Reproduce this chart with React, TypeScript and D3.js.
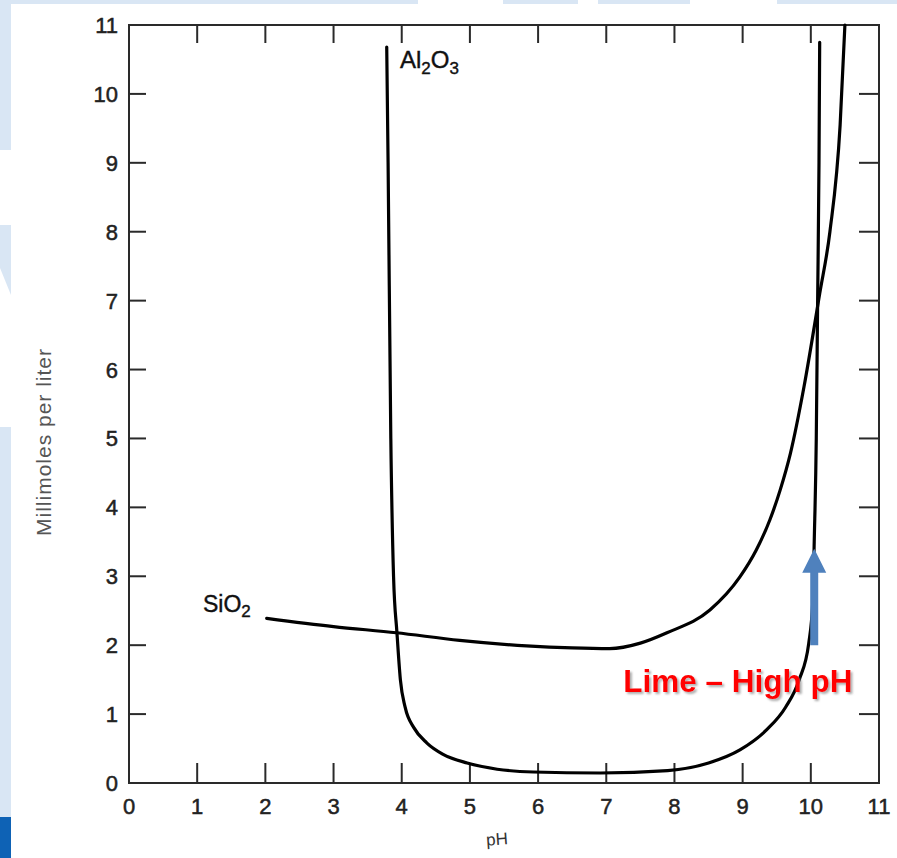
import React from "react";
import * as d3 from "d3";

const xTicks = [0, 1, 2, 3, 4, 5, 6, 7, 8, 9, 10, 11];
const yTicks = [0, 1, 2, 3, 4, 5, 6, 7, 8, 9, 10, 11];

const al2o3X = [3.78, 3.8, 3.84, 3.88, 3.93, 3.98, 4.05, 4.18, 4.37, 4.6, 4.96, 5.4, 5.93, 6.91, 7.9, 8.5, 8.96, 9.35, 9.63, 9.83, 9.97, 10.03, 10.05, 10.08, 10.1, 10.12, 10.13];
const al2o3Y = [10.68, 9.0, 5.0, 3.0, 2.18, 1.5, 1.1, 0.8, 0.58, 0.42, 0.29, 0.2, 0.16, 0.145, 0.18, 0.29, 0.48, 0.77, 1.1, 1.5, 2.03, 2.66, 3.5, 5.0, 7.0, 9.0, 10.75];

const sio2X = [2.02, 3.0, 3.92, 4.85, 5.83, 6.5, 7.05, 7.5, 7.89, 8.52, 8.96, 9.2, 9.4, 9.55, 9.7, 9.9, 10.13, 10.28, 10.43, 10.5];
const sio2Y = [2.39, 2.27, 2.18, 2.07, 1.99, 1.96, 1.95, 2.03, 2.18, 2.51, 2.99, 3.38, 3.82, 4.25, 4.78, 5.75, 7.1, 8.0, 9.55, 11.0];

const arrowX = 10.05;
const arrowFrom = 2.0;
const arrowTo = 3.4;
const arrowHeadBase = 3.05;

const W = 897;
const H = 858;

export default function App() {
  const x = d3.scaleLinear().domain([0, 11]).range([129, 879]);
  const y = d3.scaleLinear().domain([0, 11]).range([783, 25]);

  const line = d3
    .line<[number, number]>()
    .x((d) => x(d[0]))
    .y((d) => y(d[1]))
    .curve(d3.curveMonotoneX);

  const alPts: [number, number][] = al2o3X.map((v, i) => [v, al2o3Y[i]]);
  const siPts: [number, number][] = sio2X.map((v, i) => [v, sio2Y[i]]);

  const ax = x(arrowX);
  const shaftW = 8;
  const headW = 24;
  const arrowPath = [
    [ax - shaftW / 2, y(arrowFrom)],
    [ax - shaftW / 2, y(arrowHeadBase)],
    [ax - headW / 2, y(arrowHeadBase)],
    [ax, y(arrowTo)],
    [ax + headW / 2, y(arrowHeadBase)],
    [ax + shaftW / 2, y(arrowHeadBase)],
    [ax + shaftW / 2, y(arrowFrom)],
  ]
    .map((p) => p.join(","))
    .join(" ");

  const lightBlue = "#d9e6f4";
  const font = "'Liberation Sans', Arial, Helvetica, sans-serif";
  const axisColor = "#2a2a2a";

  return (
    <svg
      width={W}
      height={H}
      style={{ position: "absolute", left: 0, top: 0, background: "#fff" }}
      fontFamily={font}
    >
      <defs>
        <filter id="shadow" x="-10%" y="-30%" width="130%" height="170%">
          <feDropShadow dx={2} dy={2} stdDeviation={1.2} floodColor="#777" floodOpacity={0.6} />
        </filter>
      </defs>

      {/* slide background decoration */}
      <rect x={0} y={0} width={418} height={4} fill={lightBlue} />
      <rect x={503} y={0} width={75} height={4} fill={lightBlue} />
      <rect x={598} y={0} width={92} height={4} fill={lightBlue} />
      <rect x={777} y={0} width={120} height={4} fill={lightBlue} />
      <rect x={0} y={0} width={11} height={150} fill={lightBlue} />
      <polygon points="0,225 11,225 11,295 0,268" fill={lightBlue} />
      <rect x={0} y={427} width={11} height={390} fill={lightBlue} />
      <rect x={0} y={817} width={11} height={41} fill="#0e62b5" />

      {/* frame */}
      <rect
        x={x(0)}
        y={y(11)}
        width={x(11) - x(0)}
        height={y(0) - y(11)}
        fill="none"
        stroke={axisColor}
        strokeWidth={2}
      />

      {/* ticks */}
      {xTicks
        .filter((t) => t > 0 && t < 11)
        .map((t) => (
          <g key={"xt" + t}>
            <line x1={x(t)} x2={x(t)} y1={y(0)} y2={y(0) - 20} stroke={axisColor} strokeWidth={2} />
            <line x1={x(t)} x2={x(t)} y1={y(11)} y2={y(11) + 18} stroke={axisColor} strokeWidth={2} />
          </g>
        ))}
      {yTicks
        .filter((t) => t > 0 && t < 11)
        .map((t) => (
          <g key={"yt" + t}>
            <line x1={x(0)} x2={x(0) + 17} y1={y(t)} y2={y(t)} stroke={axisColor} strokeWidth={2} />
            <line x1={x(11)} x2={x(11) - 20} y1={y(t)} y2={y(t)} stroke={axisColor} strokeWidth={2} />
          </g>
        ))}

      {/* tick labels */}
      {xTicks.map((t) => (
        <text key={"xl" + t} x={x(t)} y={814} fontSize={22} textAnchor="middle" fill="#222" stroke="#222" strokeWidth={0.5}>
          {t}
        </text>
      ))}
      {yTicks.map((t) => (
        <text key={"yl" + t} x={118} y={y(t) + 8} fontSize={22} textAnchor="end" fill="#222" stroke="#222" strokeWidth={0.5}>
          {t}
        </text>
      ))}

      {/* axis titles */}
      <text x={497} y={845} fontSize={17} textAnchor="middle" fill="#333" transform="rotate(-4 497 840)">
        pH
      </text>
      <text
        x={0}
        y={0}
        fontSize={21}
        letterSpacing={1}
        textAnchor="middle"
        fill="#555"
        transform="translate(51 442) rotate(-90)"
      >
        Millimoles per liter
      </text>

      {/* curves */}
      <path d={line(alPts) || ""} fill="none" stroke="#000" strokeWidth={3.2} strokeLinecap="round" />
      <path d={line(siPts) || ""} fill="none" stroke="#000" strokeWidth={3.2} strokeLinecap="round" />

      {/* curve labels */}
      <text x={400} y={68} fontSize={24} fill="#111" stroke="#111" strokeWidth={0.4}>
        Al
        <tspan fontSize={17} dy={6}>2</tspan>
        <tspan dy={-6}>O</tspan>
        <tspan fontSize={17} dy={6}>3</tspan>
      </text>
      <text x={203} y={612} fontSize={23} fill="#111" stroke="#111" strokeWidth={0.4}>
        SiO
        <tspan fontSize={17} dy={5}>2</tspan>
      </text>

      {/* lime annotation */}
      <polygon points={arrowPath} fill="#4f81bd" />
      <text x={x(7.25)} y={y(1.32)} fontSize={31.5} fontWeight="bold" fill="#ff0000" filter="url(#shadow)">
        Lime – High pH
      </text>
    </svg>
  );
}
